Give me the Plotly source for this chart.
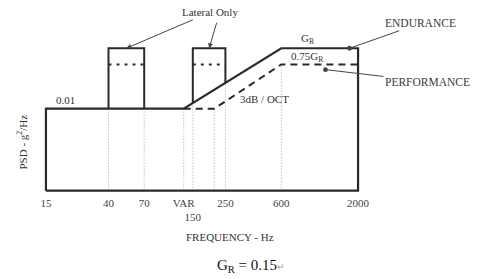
import numpy as np
import plotly.graph_objects as go

# ---- data (schematic values) ----
GR = 0.15                 # endurance level g^2/Hz
BASE = 0.01               # base level g^2/Hz
PERF = 0.75 * GR          # performance level
FLOOR = -0.18             # lower edge of the drawn frame
F_MIN, F_MAX = 15, 2000
VAR = 130                 # start of the 3 dB/oct ramp (variable)
PERF_START = 210          # start of the performance ramp
F_KNEE = 600
LATERAL_BANDS = [(40, 70), (150, 250)]

TICK_VALS = [15, 40, 70, VAR, 150, 250, 600, 2000]
TICK_TEXT = ["15", "40", "70", "VAR", "<br>150", "250", "600", "2000"]
GRID_F = [40, 70, VAR, PERF_START, 150, 250, 600]

END_F = [F_MIN, VAR, F_KNEE, F_MAX]
END_L = [BASE, BASE, GR, GR]
PERF_F = [VAR, PERF_START, F_KNEE, F_MAX]
PERF_L = [BASE, BASE, PERF, PERF]

SERIF = "Liberation Serif, Times New Roman, serif"


def log_interp(f, fx, fy):
    return float(np.interp(np.log10(f), np.log10(fx), fy))


def endurance(f):
    return log_interp(f, END_F, END_L)


def performance(f):
    return log_interp(f, PERF_F, PERF_L)


fig = go.Figure()

# grid (dotted verticals up to the curve)
band_edges = {e for b in LATERAL_BANDS for e in b}
gx, gy = [], []
for f in GRID_F:
    top = endurance(f) if f in band_edges else performance(f)
    gx += [f, f, None]
    gy += [FLOOR, top, None]
fig.add_trace(go.Scatter(x=gx, y=gy, mode="lines",
                         line=dict(color="#a8a8a8", width=1, dash="1px,2px"),
                         hoverinfo="skip", showlegend=False))

# endurance outline
ox = [F_MIN] + END_F + [F_MAX, F_MIN]
oy = [FLOOR] + END_L + [FLOOR, FLOOR]
fig.add_trace(go.Scatter(x=ox, y=oy, mode="lines",
                         line=dict(color="#2a2a2a", width=2.2),
                         name="ENDURANCE", showlegend=False))

# lateral-only bumps (endurance)
bx, by, lx, ly = [], [], [], []
for lo, hi in LATERAL_BANDS:
    bx += [lo, lo, hi, hi, None]
    by += [endurance(lo), GR, GR, endurance(hi), None]
    lx += [lo, hi, None]
    ly += [PERF, PERF, None]
fig.add_trace(go.Scatter(x=bx, y=by, mode="lines",
                         line=dict(color="#2a2a2a", width=2),
                         showlegend=False))
fig.add_trace(go.Scatter(x=lx, y=ly, mode="lines",
                         line=dict(color="#2a2a2a", width=2, dash="3px,5px"),
                         showlegend=False))

# performance (dashed)
fig.add_trace(go.Scatter(x=PERF_F, y=PERF_L, mode="lines",
                         line=dict(color="#2a2a2a", width=2, dash="7px,5px"),
                         name="PERFORMANCE", showlegend=False))

tf = dict(family=SERIF, size=11.5, color="#3a3a3a")
ann = []
# Lateral Only arrows
b1 = np.sqrt(LATERAL_BANDS[0][0] * LATERAL_BANDS[0][1])
b2 = np.sqrt(LATERAL_BANDS[1][0] * LATERAL_BANDS[1][1])
ann.append(dict(x=np.log10(b1), y=GR, xref="x", yref="y", text="Lateral Only",
                showarrow=True, ax=84, ay=-36, arrowhead=2, arrowsize=1,
                arrowwidth=1, arrowcolor="#444", font=dict(family=SERIF, size=11, color="#333")))
ann.append(dict(x=np.log10(b2), y=GR, xref="x", yref="y", text="",
                showarrow=True, ax=8, ay=-27, arrowhead=2, arrowsize=1,
                arrowwidth=1, arrowcolor="#444"))
# ENDURANCE / PERFORMANCE
ann.append(dict(x=np.log10(1750), y=GR, xref="x", yref="y", text="ENDURANCE",
                showarrow=True, ax=71, ay=-25, arrowhead=6, arrowsize=1.2,
                arrowwidth=1, arrowcolor="#444", font=tf))
ann.append(dict(x=np.log10(1200), y=PERF - 0.012, xref="x", yref="y", text="PERFORMANCE",
                showarrow=True, ax=102, ay=12, arrowhead=6, arrowsize=1.2,
                arrowwidth=1, arrowcolor="#444", font=tf))
# level labels
ann.append(dict(x=np.log10(np.sqrt(F_KNEE * F_MAX)), y=GR, xref="x", yref="y",
                text="G<sub>R</sub>", showarrow=False, yanchor="bottom", xshift=-12,
                font=dict(family=SERIF, size=11, color="#333")))
ann.append(dict(x=np.log10(np.sqrt(F_KNEE * F_MAX)), y=PERF, xref="x", yref="y",
                text="0.75G<sub>R</sub>", showarrow=False, yanchor="bottom", xshift=-12,
                yshift=-2, font=dict(family=SERIF, size=11, color="#333")))
ann.append(dict(x=np.log10(F_MIN), y=BASE, xref="x", yref="y", text="0.01",
                showarrow=False, xanchor="left", yanchor="bottom", xshift=8, yshift=1,
                font=dict(family=SERIF, size=11, color="#333")))
ann.append(dict(x=np.log10(460), y=BASE, xref="x", yref="y", text="3dB / OCT",
                showarrow=False, yanchor="bottom", yshift=2,
                font=dict(family=SERIF, size=11, color="#333")))
# axis titles and footer
ann.append(dict(x=-0.066, y=0.32, xref="paper", yref="paper", text="PSD - g<sup>2</sup>/Hz",
                showarrow=False, textangle=-90, xanchor="center", yanchor="middle",
                font=dict(family=SERIF, size=11, color="#333")))
ann.append(dict(x=0.588, y=-0.255, xref="paper", yref="paper", text="FREQUENCY - Hz",
                showarrow=False, xanchor="center", yanchor="middle",
                font=dict(family=SERIF, size=11, color="#333")))
ann.append(dict(x=0.655, y=-0.435, xref="paper", yref="paper",
                text="G<sub>R</sub> = 0.15<span style='font-size:9px;color:#999'>↵</span>",
                showarrow=False, xanchor="center", yanchor="middle",
                font=dict(family=SERIF, size=15, color="#111")))

fig.update_layout(
    width=478, height=279,
    margin=dict(l=43, r=117, t=31, b=84, autoexpand=False),
    paper_bgcolor="white", plot_bgcolor="white",
    showlegend=False,
    annotations=ann,
    xaxis=dict(type="log", range=[np.log10(F_MIN) - 0.02, np.log10(F_MAX) + 0.02],
               tickvals=TICK_VALS, ticktext=TICK_TEXT, tickangle=0, automargin=False,
               showgrid=False, zeroline=False,
               showline=False, ticks="", tickfont=dict(family=SERIF, size=11, color="#444")),
    yaxis=dict(range=[FLOOR - 0.01, 0.19], showgrid=False, zeroline=False, automargin=False,
               showline=False, showticklabels=False, ticks=""),
)

fig.write_html("out.html", config={"displayModeBar": False},
               post_script="document.body.style.margin='0';document.body.style.overflow='hidden';")
